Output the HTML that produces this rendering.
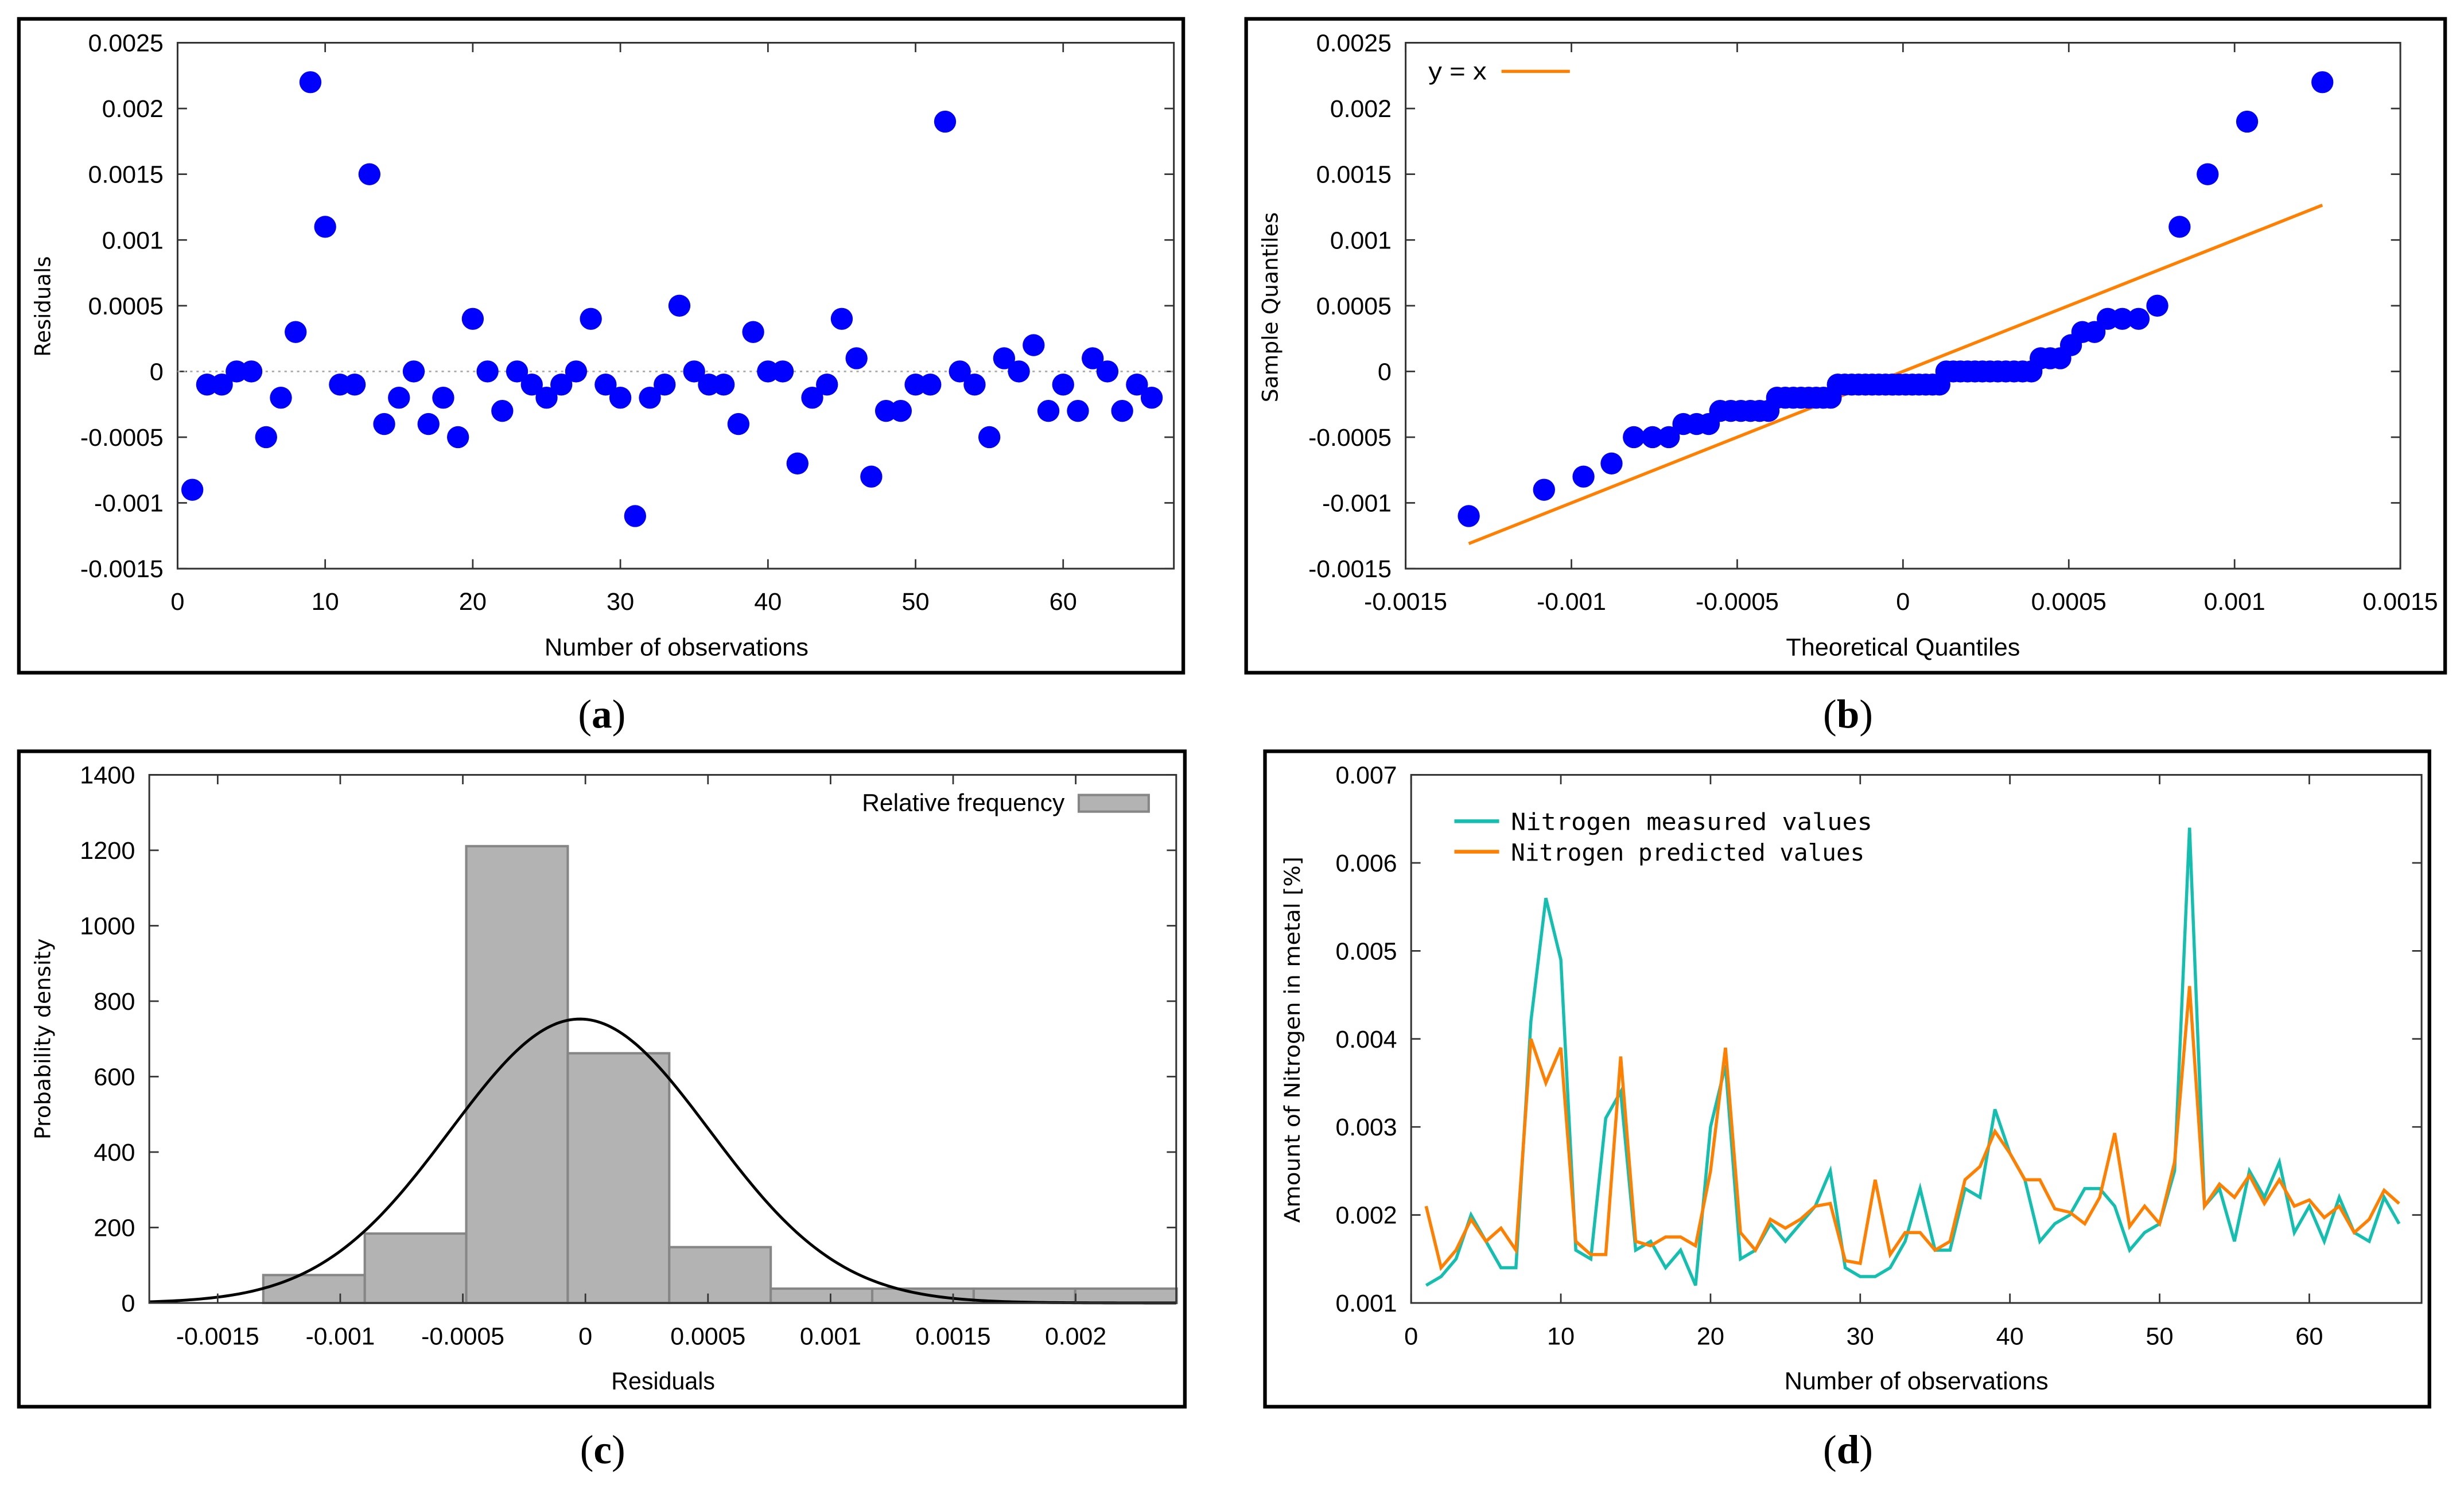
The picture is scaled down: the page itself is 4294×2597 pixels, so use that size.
<!DOCTYPE html>
<html><head><meta charset="utf-8"><style>
html,body{margin:0;padding:0;background:#fff;}
svg{display:block;}
</style></head><body>
<svg id="fig" xmlns="http://www.w3.org/2000/svg" width="4294" height="2597" viewBox="0 0 1568 948" preserveAspectRatio="none">
<rect x="0" y="0" width="1568" height="948" fill="#fff"/>
</svg>
<script>
// ---------- data ----------
const observationResiduals = [-0.0009,-0.0001,-0.0001,0,0,-0.0005,-0.0002,0.0003,0.0022,0.0011,
 -0.0001,-0.0001,0.0015,-0.0004,-0.0002,0,-0.0004,-0.0002,-0.0005,0.0004,
 0,-0.0003,0,-0.0001,-0.0002,-0.0001,0,0.0004,-0.0001,-0.0002,
 -0.0011,-0.0002,-0.0001,0.0005,0,-0.0001,-0.0001,-0.0004,0.0003,0,
 0,-0.0007,-0.0002,-0.0001,0.0004,0.0001,-0.0008,-0.0003,-0.0003,-0.0001,
 -0.0001,0.0019,0,-0.0001,-0.0005,0.0001,0,0.0002,-0.0003,-0.0001,
 -0.0003,0.0001,0,-0.0003,-0.0001,-0.0002];
const measuredValues = [0.0012,0.0013,0.0015,0.0020,0.0017,0.0014,0.0014,0.0042,0.0056,0.0049,
 0.0016,0.0015,0.0031,0.0034,0.0016,0.0017,0.0014,0.0016,0.0012,0.0030,
 0.0037,0.0015,0.0016,0.0019,0.0017,0.0019,0.0021,0.0025,0.0014,0.0013,
 0.0013,0.0014,0.0017,0.0023,0.0016,0.0016,0.0023,0.0022,0.0032,0.0027,
 0.0024,0.0017,0.0019,0.0020,0.0023,0.0023,0.0021,0.0016,0.0018,0.0019,
 0.0025,0.0064,0.0021,0.0023,0.0017,0.0025,0.0022,0.0026,0.0018,0.0021,
 0.0017,0.0022,0.0018,0.0017,0.0022,0.0019];
const predictedValues = [0.0021,0.0014,0.0016,0.00195,0.0017,0.00185,0.0016,0.0040,0.0035,0.0039,
 0.0017,0.00155,0.00155,0.0038,0.0017,0.00165,0.00175,0.00175,0.00165,0.0025,
 0.0039,0.0018,0.0016,0.00195,0.00185,0.00195,0.0021,0.00213,0.00148,0.00145,
 0.0024,0.00155,0.0018,0.0018,0.0016,0.0017,0.0024,0.00255,0.00295,0.0027,
 0.0024,0.0024,0.00207,0.00203,0.0019,0.0022,0.00293,0.00187,0.0021,0.0019,
 0.0026,0.0046,0.0021,0.00235,0.0022,0.00245,0.00213,0.0024,0.0021,0.00217,
 0.00197,0.0021,0.0018,0.00195,0.00228,0.00213];
const binStart = -0.001314;
const binWidth = 0.000414;
const binDensity = [74,184,1211,662,148,38,38,38,38];
const fitMean = -0.0000224;
const fitSigma = 0.00053;
const residTicks = [-0.0015,-0.001,-0.0005,0,0.0005,0.001,0.0015,0.002,0.0025];
const residTickLabels = ["-0.0015","-0.001","-0.0005","0","0.0005","0.001","0.0015","0.002","0.0025"];
const obsTicks = [0,10,20,30,40,50,60];
const obsTickLabels = ["0","10","20","30","40","50","60"];
const qqXTicks = [-0.0015,-0.001,-0.0005,0,0.0005,0.001,0.0015];
const qqXTickLabels = ["-0.0015","-0.001","-0.0005","0","0.0005","0.001","0.0015"];
const histXTicks = [-0.0015,-0.001,-0.0005,0,0.0005,0.001,0.0015,0.002];
const histXTickLabels = ["-0.0015","-0.001","-0.0005","0","0.0005","0.001","0.0015","0.002"];
const densityTicks = [0,200,400,600,800,1000,1200,1400];
const densityTickLabels = ["0","200","400","600","800","1000","1200","1400"];
const nitrogenTicks = [0.001,0.002,0.003,0.004,0.005,0.006,0.007];
const nitrogenTickLabels = ["0.001","0.002","0.003","0.004","0.005","0.006","0.007"];

// ---------- helpers ----------
const NS = "http://www.w3.org/2000/svg";
const svg = document.getElementById('fig');
function mk(parent, tag, attrs, txt){
  const e = document.createElementNS(NS, tag);
  for (const k in attrs) e.setAttribute(k, attrs[k]);
  if (txt !== undefined) e.textContent = txt;
  parent.appendChild(e);
  return e;
}
function labW(s){ let w=0; for (const c of s){ if(c==='.') w+=3.9; else if(c==='-') w+=5; else w+=8.8; } return w; }
const tickFont = '"Liberation Sans", sans-serif';

function drawFrame(x,y,w,h,name){
  const r = mk(svg,'rect',{x:x,y:y,width:w,height:h,fill:'none',stroke:'#000','stroke-width':2.3});
  
  
}
function drawAxes(c){
  const g = mk(svg,'g',{});
  
  
  const sx = v => c.x0 + (v - c.xmin)/(c.xmax - c.xmin)*(c.x1 - c.x0);
  const sy = v => c.y1 - (v - c.ymin)/(c.ymax - c.ymin)*(c.y1 - c.y0);
  const box = mk(g,'rect',{x:c.x0,y:c.y0,width:c.x1-c.x0,height:c.y1-c.y0,fill:'none',stroke:'#333','stroke-width':1.1});
  
  
  c.xticks.forEach((v,i)=>{
    const X = sx(v);
    if (X < c.x0-0.5 || X > c.x1+0.5) return;
    mk(g,'line',{x1:X,y1:c.y1,x2:X,y2:c.y1-6,stroke:'#333','stroke-width':1});
    mk(g,'line',{x1:X,y1:c.y0,x2:X,y2:c.y0+6,stroke:'#333','stroke-width':1});
    const s = c.xlabels[i];
    const t = mk(g,'text',{x:X,y:c.xlabY,'text-anchor':'middle','font-family':tickFont,'font-size':15.5,fill:'#000',textLength:labW(s),lengthAdjust:'spacingAndGlyphs'}, s);
    
    
  });
  c.yticks.forEach((v,i)=>{
    const Y = sy(v);
    mk(g,'line',{x1:c.x0,y1:Y,x2:c.x0+6,y2:Y,stroke:'#333','stroke-width':1});
    mk(g,'line',{x1:c.x1,y1:Y,x2:c.x1-6,y2:Y,stroke:'#333','stroke-width':1});
    const s = c.ylabels[i];
    const t = mk(g,'text',{x:c.ylabX,y:Y+5.5,'text-anchor':'end','font-family':tickFont,'font-size':15.5,fill:'#000',textLength:labW(s),lengthAdjust:'spacingAndGlyphs'}, s);
    
    
  });
  return {sx, sy, g};
}
function xTitle(txt,cx,y,len,name){
  const t = mk(svg,'text',{x:cx,y:y,'text-anchor':'middle','font-family':tickFont,'font-size':15.5,fill:'#000',textLength:len,lengthAdjust:'spacingAndGlyphs'}, txt);
  
  
}
function yTitle(txt,x,cy,len,name){
  const t = mk(svg,'text',{x:0,y:0,transform:`translate(${x},${cy}) rotate(-90)`,'text-anchor':'middle','font-family':'"DejaVu Sans", sans-serif','font-size':13.5,fill:'#000',textLength:len,lengthAdjust:'spacingAndGlyphs'}, txt);
  
  
}
function caption(letter,cx,y,name){
  const t = mk(svg,'text',{x:cx,y:y,'text-anchor':'middle','font-family':'"Liberation Serif", serif','font-size':26,fill:'#000'});
  
  
  mk(t,'tspan',{},'(');
  mk(t,'tspan',{'font-weight':'bold'},letter);
  mk(t,'tspan',{},')');
}
// inverse normal CDF (Acklam)
function qnorm(p){
  const a=[-3.969683028665376e+01,2.209460984245205e+02,-2.759285104469687e+02,1.383577518672690e+02,-3.066479806614716e+01,2.506628277459239e+00];
  const b=[-5.447609879822406e+01,1.615858368580409e+02,-1.556989798598866e+02,6.680131188771972e+01,-1.328068155288572e+01];
  const cc=[-7.784894002430293e-03,-3.223964580411365e-01,-2.400758277161838e+00,-2.549732539343734e+00,4.374664141464968e+00,2.938163982698783e+00];
  const d=[7.784695709041462e-03,3.224671290700398e-01,2.445134137142996e+00,3.754408661907416e+00];
  const pl=0.02425;
  if(p<pl){const q=Math.sqrt(-2*Math.log(p));return (((((cc[0]*q+cc[1])*q+cc[2])*q+cc[3])*q+cc[4])*q+cc[5])/((((d[0]*q+d[1])*q+d[2])*q+d[3])*q+1);}
  if(p>1-pl){const q=Math.sqrt(-2*Math.log(1-p));return -(((((cc[0]*q+cc[1])*q+cc[2])*q+cc[3])*q+cc[4])*q+cc[5])/((((d[0]*q+d[1])*q+d[2])*q+d[3])*q+1);}
  const q=p-0.5,r=q*q;
  return (((((a[0]*r+a[1])*r+a[2])*r+a[3])*r+a[4])*r+a[5])*q/(((((b[0]*r+b[1])*r+b[2])*r+b[3])*r+b[4])*r+1);
}

// ---------- panel (a) ----------
drawFrame(12,12,741,416,'panel-a-frame');
const A = drawAxes({name:'panel-a',x0:113,x1:747,y0:27.2,y1:361.8,xmin:0,xmax:67.5,ymin:-0.0015,ymax:0.0025,
  xticks:obsTicks,xlabels:obsTickLabels,yticks:residTicks,ylabels:residTickLabels,xlabY:388,ylabX:104});
const zl = mk(svg,'line',{x1:113,y1:A.sy(0),x2:747,y2:A.sy(0),stroke:'#aaa','stroke-width':1,'stroke-dasharray':'1.5,2.5'});


observationResiduals.forEach((v,i)=>{
  const c = mk(svg,'circle',{cx:A.sx(i+1),cy:A.sy(v),r:7,fill:'#0000ff'});
  
  
});
xTitle('Number of observations',430.5,417,168,'panel-a-x-axis-title');
yTitle('Residuals',32,195,64,'panel-a-y-axis-title');
caption('a',383,463,'caption-a');

// ---------- panel (b) ----------
drawFrame(793,12,763,416,'panel-b-frame');
const B = drawAxes({name:'panel-b',x0:894.5,x1:1527.5,y0:27.2,y1:361.8,xmin:-0.0015,xmax:0.0015,ymin:-0.0015,ymax:0.0025,
  xticks:qqXTicks,xlabels:qqXTickLabels,yticks:residTicks,ylabels:residTickLabels,xlabY:388,ylabX:885.5});
const sortedResid = observationResiduals.slice().sort((p,q)=>p-q);
const nObs = sortedResid.length;
const theo = sortedResid.map((_,i)=>fitMean + fitSigma*qnorm((i+0.5)/nObs));
const qline = mk(svg,'line',{x1:B.sx(theo[0]),y1:B.sy(theo[0]),x2:B.sx(theo[nObs-1]),y2:B.sy(theo[nObs-1]),stroke:'#ff8000','stroke-width':2});


sortedResid.forEach((v,i)=>{
  const c = mk(svg,'circle',{cx:B.sx(theo[i]),cy:B.sy(v),r:7,fill:'#0000ff'});
  
  
});
const lgB = mk(svg,'g',{});


mk(lgB,'text',{x:909,y:50.5,'font-family':tickFont,'font-size':15.5,fill:'#000',textLength:37,lengthAdjust:'spacingAndGlyphs'},'y = x');
mk(lgB,'line',{x1:955.5,y1:45.4,x2:999,y2:45.4,stroke:'#ff8000','stroke-width':2});
xTitle('Theoretical Quantiles',1211,417,149,'panel-b-x-axis-title');
yTitle('Sample Quantiles',813,195.5,121,'panel-b-y-axis-title');
caption('b',1176,463,'caption-b');

// ---------- panel (c) ----------
drawFrame(12,478,742,417,'panel-c-frame');
const xminC = -0.001779, xmaxC = 0.00241;
const Cb = {name:'panel-c',x0:95,x1:748.5,y0:493,y1:829,xmin:xminC,xmax:xmaxC,ymin:0,ymax:1400};
const sxC = v => Cb.x0 + (v-xminC)/(xmaxC-xminC)*(Cb.x1-Cb.x0);
const syC = v => Cb.y1 - v/1400*(Cb.y1-Cb.y0);
binDensity.forEach((h,i)=>{
  const l = sxC(binStart+i*binWidth), r = sxC(binStart+(i+1)*binWidth);
  const b = mk(svg,'rect',{x:l,y:syC(h),width:r-l,height:syC(0)-syC(h),fill:'#b3b3b3',stroke:'#868686','stroke-width':1.5});
  
  
});
let pts=[];
for(let k=0;k<=300;k++){
  const v = xminC + (xmaxC-xminC)*k/300;
  const d = Math.exp(-0.5*Math.pow((v-fitMean)/fitSigma,2))/(fitSigma*Math.sqrt(2*Math.PI));
  pts.push(sxC(v).toFixed(2)+','+syC(d).toFixed(2));
}
const curve = mk(svg,'polyline',{points:pts.join(' '),fill:'none',stroke:'#000','stroke-width':1.8});


drawAxes(Object.assign(Cb,{xticks:histXTicks,xlabels:histXTickLabels,yticks:densityTicks,ylabels:densityTickLabels,xlabY:855.5,ylabX:86}));
const lgC = mk(svg,'g',{});


mk(lgC,'text',{x:677.5,y:516,'text-anchor':'end','font-family':tickFont,'font-size':15.5,fill:'#000',textLength:129,lengthAdjust:'spacingAndGlyphs'},'Relative frequency');
mk(lgC,'rect',{x:686.5,y:505.8,width:44.5,height:10.6,fill:'#b3b3b3',stroke:'#868686','stroke-width':1.5});
xTitle('Residuals',422,884,66,'panel-c-x-axis-title');
yTitle('Probability density',32,661,128,'panel-c-y-axis-title');
caption('c',383.5,931,'caption-c');

// ---------- panel (d) ----------
drawFrame(805,478,741,417,'panel-d-frame');
const D = drawAxes({name:'panel-d',x0:898,x1:1541,y0:493,y1:829,xmin:0,xmax:67.5,ymin:0.001,ymax:0.007,
  xticks:obsTicks,xlabels:obsTickLabels,yticks:nitrogenTicks,ylabels:nitrogenTickLabels,xlabY:855.5,ylabX:889});
const mLine = mk(svg,'polyline',{points:measuredValues.map((v,i)=>D.sx(i+1).toFixed(2)+','+D.sy(v).toFixed(2)).join(' '),fill:'none',stroke:'#14bfb0','stroke-width':2,'stroke-linejoin':'miter'});


const pLine = mk(svg,'polyline',{points:predictedValues.map((v,i)=>D.sx(i+1).toFixed(2)+','+D.sy(v).toFixed(2)).join(' '),fill:'none',stroke:'#ff8000','stroke-width':2,'stroke-linejoin':'miter'});


const lgD1 = mk(svg,'g',{});


mk(lgD1,'line',{x1:925.5,y1:522.5,x2:954,y2:522.5,stroke:'#14bfb0','stroke-width':2.4});
mk(lgD1,'text',{x:961.5,y:528,'font-family':'"DejaVu Sans Mono", monospace','font-size':15,fill:'#000',textLength:230,lengthAdjust:'spacingAndGlyphs'},'Nitrogen measured values');
const lgD2 = mk(svg,'g',{});


mk(lgD2,'line',{x1:925.5,y1:541.9,x2:954,y2:541.9,stroke:'#ff8000','stroke-width':2.4});
mk(lgD2,'text',{x:961.5,y:547.5,'font-family':'"DejaVu Sans Mono", monospace','font-size':15,fill:'#000',textLength:225,lengthAdjust:'spacingAndGlyphs'},'Nitrogen predicted values');
xTitle('Number of observations',1219.5,884,168,'panel-d-x-axis-title');
yTitle('Amount of Nitrogen in metal [%]',827,661.5,233,'panel-d-y-axis-title');
caption('d',1176,931,'caption-d');
</script>
</body></html>
